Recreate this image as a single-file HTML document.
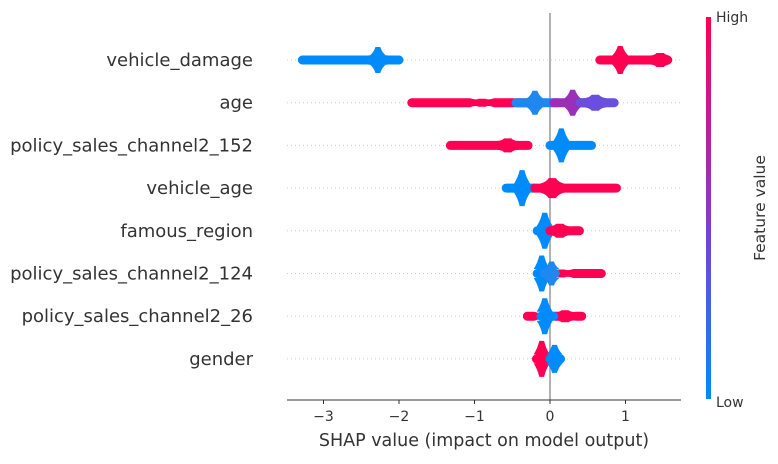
<!DOCTYPE html>
<html><head><meta charset="utf-8"><style>
body{margin:0;background:#fff;}
svg text{font-family:"DejaVu Sans","Liberation Sans",sans-serif;}
</style></head><body>
<svg id="c" width="778" height="459">
<defs><linearGradient id="g" x1="0" y1="1" x2="0" y2="0">
<stop offset="0" stop-color="#008bfb"/><stop offset="0.5" stop-color="#8b37c8"/><stop offset="1" stop-color="#ff0052"/></linearGradient></defs>
</svg>
<script>
const features=["vehicle_damage","age","policy_sales_channel2_152","vehicle_age","famous_region","policy_sales_channel2_124","policy_sales_channel2_26","gender"];
const xTicks=[-3,-2,-1,0,1];
// blobs: row, start, end, peak, peak half-height(px), color
const blobRow=  [0,0,0,0, 1,1,1,1, 2,2, 3,3, 4,4, 5,5,5, 6,6,6, 7,7];
const blobStart=[-3.28,-2.6,0.66,1.3, -1.83,-0.45,0.05,0.4, -1.32,0.0, -0.58,-0.2, -0.17,0.0, -0.17,0.07,-0.08, -0.3,0.08,-0.12, -0.18,0.0];
const blobEnd=  [-2.01,-2.0,1.3,1.56, -0.13,0.1,0.55,0.85, -0.29,0.55, -0.2,0.88, 0.0,0.39, 0.07,0.68,0.07, 0.05,0.42,0.05, -0.03,0.14];
const blobPeak= [-2.28,-2.28,0.93,1.46, -0.9,-0.2,0.3,0.6, -0.56,0.15, -0.37,0.03, -0.07,0.13, -0.11,0.15,0.02, -0.05,0.2,-0.07, -0.11,0.06];
const blobH=    [13,7,14,7, 4,12,13,8, 7,17, 18,10, 18,7, 18,4,12, 4,6,18, 18,14];
const blobColor=["#008bfb","#008bfb","#ff0052","#ff0052","#ff0052","#1e87f0","#9b2fb8","#6a4ee0","#ff0052","#008bfb","#008bfb","#ff0052","#008bfb","#ff0052","#008bfb","#ff0052","#1e87f0","#ff0052","#ff0052","#008bfb","#ff0052","#008bfb"];
const svg=document.getElementById('c');const NS='http://www.w3.org/2000/svg';
const X=v=>550+v*75.5, Y=i=>60+i*42.7;
function mk(t,a,p){const e=document.createElementNS(NS,t);for(const k in a)e.setAttribute(k,a[k]);(p||svg).appendChild(e);return e;}
features.forEach((f,i)=>{
 const g=mk('line',{x1:287,x2:681,y1:Y(i),y2:Y(i),stroke:'#ccc','stroke-dasharray':'1,3','stroke-width':1});
 
 
 const t=mk('text',{x:253,y:Y(i)+6,'text-anchor':'end','font-size':18,fill:'#333'});t.textContent=f;
 
 
});
mk('line',{x1:550,x2:550,y1:13,y2:400,stroke:'#999','stroke-width':1.5});
blobRow.forEach((r,k)=>{
 const y=Y(r),a=X(blobStart[k]),b=X(blobEnd[k]),p=X(blobPeak[k]),h=blobH[k],c=blobColor[k];
 const w=h>10?4:6, t=4.5;
 const d=`M${a},${y-t} L${p-w*2},${y-t} Q${p-w},${y-h*0.6} ${p-w*0.6},${y-h} L${p+w*0.6},${y-h} Q${p+w},${y-h*0.6} ${p+w*2},${y-t} L${b},${y-t} A${t},${t} 0 0 1 ${b},${y+t} L${p+w*2},${y+t} Q${p+w},${y+h*0.6} ${p+w*0.6},${y+h} L${p-w*0.6},${y+h} Q${p-w},${y+h*0.6} ${p-w*2},${y+t} L${a},${y+t} A${t},${t} 0 0 1 ${a},${y-t}Z`;
 const e=mk('path',{d:d,fill:c});
 
 
});
mk('line',{x1:287,x2:681,y1:400,y2:400,stroke:'#333','stroke-width':1});
xTicks.forEach(v=>{
 mk('line',{x1:X(v),x2:X(v),y1:400,y2:404,stroke:'#333'});
 const t=mk('text',{x:X(v),y:421,'text-anchor':'middle','font-size':14,fill:'#333'});t.textContent=(v<0?'\u2212'+(-v):v);
 
 
});
const xt=mk('text',{x:484,y:446,'text-anchor':'middle','font-size':17.5,fill:'#333'});xt.textContent='SHAP value (impact on model output)';


const cb=mk('rect',{x:706,y:17,width:5,height:382,fill:'url(#g)'});


const hi=mk('text',{x:716,y:22,'font-size':14,fill:'#333'});hi.textContent='High';


const lo=mk('text',{x:716,y:407,'font-size':14,fill:'#333'});lo.textContent='Low';


const fv=mk('text',{x:765,y:208,'font-size':15.5,fill:'#333','text-anchor':'middle',transform:'rotate(-90 765 208)'});fv.textContent='Feature value';


</script>
</body></html>
